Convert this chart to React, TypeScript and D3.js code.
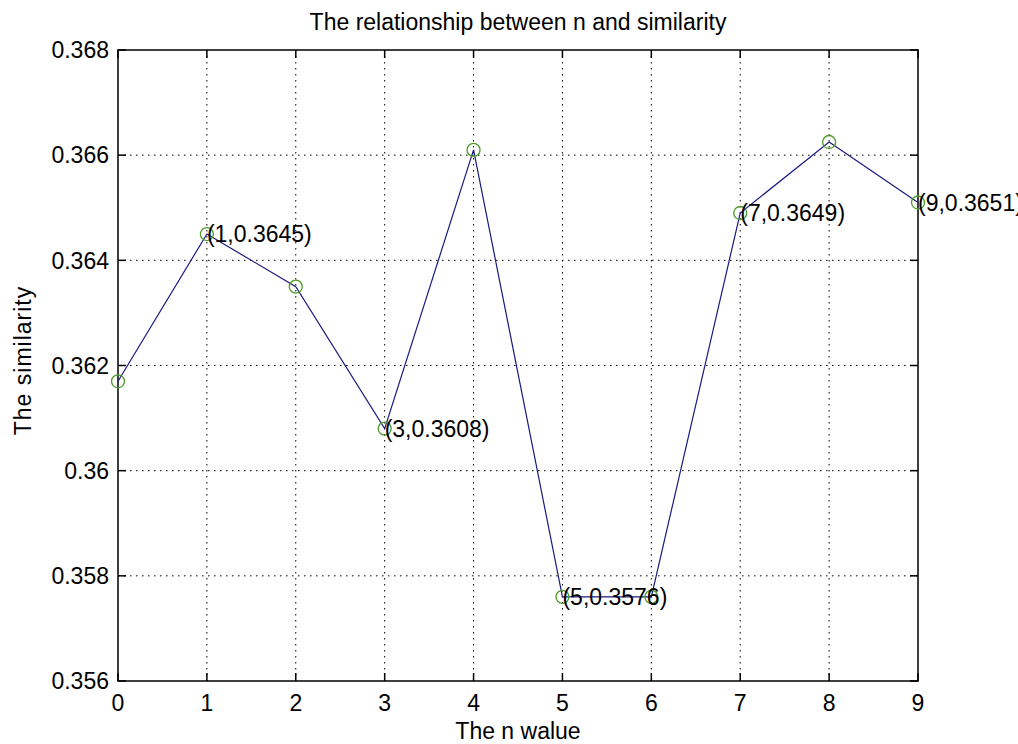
import React from "react";
import * as d3 from "d3";

const nValues = [0, 1, 2, 3, 4, 5, 6, 7, 8, 9];
const similarity = [0.3617, 0.3645, 0.3635, 0.3608, 0.3661, 0.3576, 0.3576, 0.3649, 0.36625, 0.3651];
const labeledIdx = [1, 3, 5, 7, 9];
const xTicks = [0, 1, 2, 3, 4, 5, 6, 7, 8, 9];
const yTicks = [0.356, 0.358, 0.36, 0.362, 0.364, 0.366, 0.368];
const yTickLabels = ["0.356", "0.358", "0.36", "0.362", "0.364", "0.366", "0.368"];
const titleText = "The relationship between n and similarity";
const xLabelText = "The n walue";
const yLabelText = "The similarity";

const W = 1018;
const H = 744;
const L = 118, R = 918, T = 50, B = 681;
const FONT = "'Liberation Sans', Arial, sans-serif";

export default function App() {
  const x = d3.scaleLinear().domain([0, 9]).range([L, R]);
  const y = d3.scaleLinear().domain([0.356, 0.368]).range([B, T]);
  const line = d3
    .line<number>()
    .x((_, i) => x(nValues[i]))
    .y((d) => y(d));
  const tl = 8;
  return (
    <svg
      width={W}
      height={H}
      style={{ position: "absolute", left: 0, top: 0, background: "#fff" }}
      fontFamily={FONT}
    >
      <rect x={0} y={0} width={W} height={H} fill="#fff" />
      {/* grid */}
      {xTicks.slice(1, -1).map((t) => (
        <line key={"gx" + t} x1={x(t)} x2={x(t)} y1={T} y2={B} stroke="#000" strokeWidth={1} strokeDasharray="1.5,4.5" />
      ))}
      {yTicks.slice(1, -1).map((t) => (
        <line key={"gy" + t} x1={L} x2={R} y1={y(t)} y2={y(t)} stroke="#000" strokeWidth={1} strokeDasharray="1.5,4.5" />
      ))}
      {/* ticks */}
      {xTicks.map((t) => (
        <g key={"tx" + t}>
          <line x1={x(t)} x2={x(t)} y1={B} y2={B - tl} stroke="#000" strokeWidth={1.5} />
          <line x1={x(t)} x2={x(t)} y1={T} y2={T + tl} stroke="#000" strokeWidth={1.5} />
          <text x={x(t)} y={711} textAnchor="middle" fontSize={23} fill="#000">
            {t}
          </text>
        </g>
      ))}
      {yTicks.map((t, i) => (
        <g key={"ty" + t}>
          <line x1={L} x2={L + tl} y1={y(t)} y2={y(t)} stroke="#000" strokeWidth={1.5} />
          <line x1={R} x2={R - tl} y1={y(t)} y2={y(t)} stroke="#000" strokeWidth={1.5} />
          <text x={109} y={y(t)} dy="0.36em" textAnchor="end" fontSize={23} fill="#000">
            {yTickLabels[i]}
          </text>
        </g>
      ))}
      {/* box */}
      <rect x={L} y={T} width={R - L} height={B - T} fill="none" stroke="#000" strokeWidth={1.5} />
      {/* series */}
      <path d={line(similarity) || ""} fill="none" stroke="#1a1a80" strokeWidth={1.2} />
      {similarity.map((v, i) => (
        <circle key={"c" + i} cx={x(nValues[i])} cy={y(v)} r={6.5} fill="none" stroke="#4f9a2a" strokeWidth={1.3} />
      ))}
      {labeledIdx.map((i) => (
        <text key={"l" + i} x={x(nValues[i])} y={y(similarity[i])} dy="0.36em" fontSize={23} fill="#000">
          {`(${nValues[i]},${similarity[i].toFixed(4)})`}
        </text>
      ))}
      {/* titles */}
      <text x={(L + R) / 2} y={30} textAnchor="middle" fontSize={23} fill="#000">
        {titleText}
      </text>
      <text x={(L + R) / 2} y={739} textAnchor="middle" fontSize={23} fill="#000">
        {xLabelText}
      </text>
      <text
        transform={`translate(31, ${(T + B) / 2 - 5}) rotate(-90)`}
        textAnchor="middle"
        fontSize={23}
        fill="#000"
        letterSpacing={1}
      >
        {yLabelText}
      </text>
    </svg>
  );
}
